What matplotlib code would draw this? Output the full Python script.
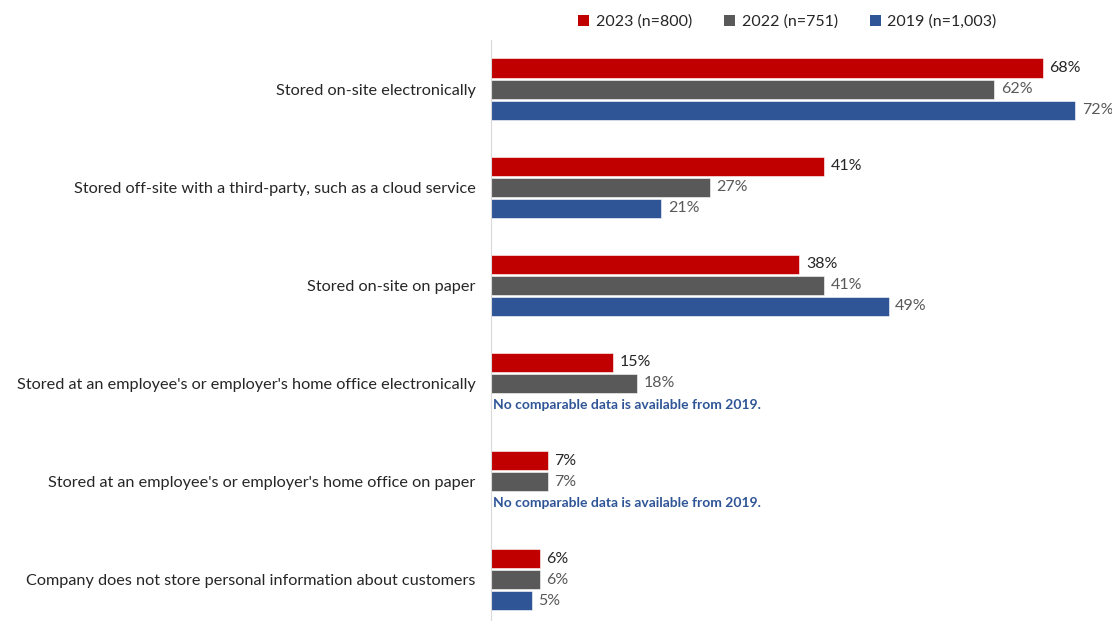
import numpy as np
import matplotlib.pyplot as plt
from matplotlib.patches import Patch

plt.rcParams['font.family'] = ['Lato', 'DejaVu Sans']

categories = [
    "Stored on-site electronically",
    "Stored off-site with a third-party, such as a cloud service",
    "Stored on-site on paper",
    "Stored at an employee's or employer's home office electronically",
    "Stored at an employee's or employer's home office on paper",
    "Company does not store personal information about customers",
]
series_names = ["2023 (n=800)", "2022 (n=751)", "2019 (n=1,003)"]
vals_2023 = [68, 41, 38, 15, 7, 6]
vals_2022 = [62, 27, 41, 18, 7, 6]
vals_2019 = [72, 21, 49, None, None, 5]
note_text = "No comparable data is available from 2019."

colors = ["#C00000", "#595959", "#2F5597"]
label_colors = ["#262626", "#595959", "#595959"]

fig = plt.figure(figsize=(11.12, 6.21), dpi=100)
ax = fig.add_axes([491 / 1112, 0, 1 - 491 / 1112, 581 / 621])

y = np.arange(len(categories))
bar_h = 0.195
step = 0.215
offsets = [-step, 0, step]

for vals, off, col, lcol in zip([vals_2023, vals_2022, vals_2019], offsets, colors, label_colors):
    for i, v in enumerate(vals):
        if v is None:
            # no 2019 figure for this item, so a note sits in the bar's place
            ax.text(0.3, y[i] + off, note_text, color="#2F5597", fontsize=10,
                    fontweight="bold", va="center", ha="left")
            continue
        ax.barh(y[i] + off, v, height=bar_h, color=col, edgecolor="white", linewidth=0.4)
        ax.text(v + 0.8, y[i] + off, f"{v}%", color=lcol, fontsize=11.5, va="center", ha="left")

ax.set_xlim(0, 76.5)
ax.set_ylim(5.42, -0.5)
ax.set_yticks(y)
ax.set_yticklabels(categories, fontsize=11.7, color="#262626")
ax.tick_params(axis="y", length=0, pad=11)
ax.set_xticks([])
for s in ["top", "right", "bottom"]:
    ax.spines[s].set_visible(False)
ax.spines["left"].set_color("#d9d9d9")

handles = [Patch(facecolor=c, label=n) for c, n in zip(colors, series_names)]
fig.legend(handles=handles, loc="upper center", bbox_to_anchor=(0.708, 1.0), ncol=3,
           frameon=False, fontsize=11.5, handlelength=0.7, handleheight=0.7,
           handletextpad=0.4, columnspacing=2.0, labelcolor="#262626")

fig.savefig("out.png", dpi=100)
